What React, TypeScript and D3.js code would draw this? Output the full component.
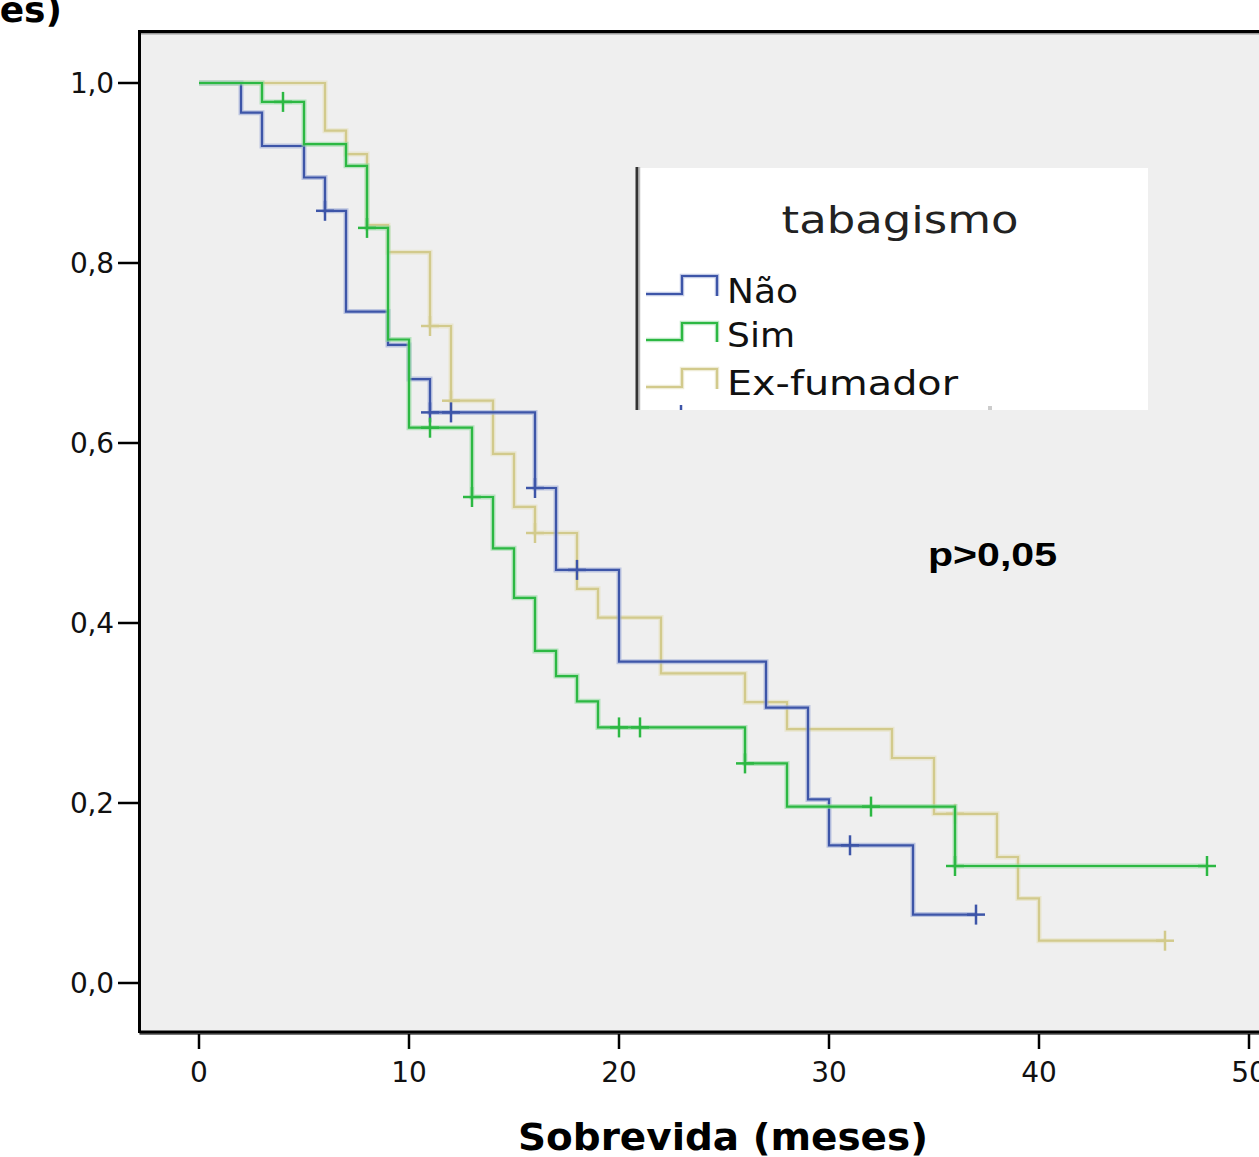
import React from "react";
import * as d3 from "d3";

// Kaplan-Meier steps (months, cumulative survival)
const naoTimes = [0, 2, 3, 5, 6, 7, 9, 10, 11, 16, 17, 20, 27, 29, 30, 34];
const naoSurv = [1, 0.967, 0.93, 0.895, 0.858, 0.746, 0.709, 0.671, 0.634, 0.55, 0.459, 0.357, 0.306, 0.204, 0.153, 0.076];
const naoCensored = [6, 11, 12, 16, 18, 31, 37];
const naoEnd = 37;

const simTimes = [0, 3, 5, 7, 8, 9, 10, 13, 14, 15, 16, 17, 18, 19, 26, 28, 36];
const simSurv = [1, 0.979, 0.932, 0.908, 0.839, 0.715, 0.617, 0.54, 0.483, 0.428, 0.369, 0.341, 0.313, 0.284, 0.244, 0.196, 0.13];
const simCensored = [4, 8, 11, 13, 20, 21, 26, 32, 36, 48];
const simEnd = 48;

const exTimes = [0, 6, 7, 8, 9, 11, 12, 14, 15, 16, 18, 19, 22, 26, 28, 33, 35, 38, 39, 40];
const exSurv = [1, 0.947, 0.921, 0.842, 0.812, 0.73, 0.647, 0.588, 0.529, 0.5, 0.438, 0.406, 0.344, 0.312, 0.282, 0.25, 0.188, 0.14, 0.094, 0.047];
const exCensored = [11, 12, 16, 36, 46];
const exEnd = 46;

const groupNames = ["Não", "Sim", "Ex-fumador"];
const xTicks = [0, 10, 20, 30, 40, 50];
const yTicks = [0, 0.2, 0.4, 0.6, 0.8, 1.0];

const W = 1259, H = 1157;
const x = d3.scaleLinear().domain([0, 50]).range([199, 1249]);
const y = d3.scaleLinear().domain([0, 1]).range([983, 83]);

const colors = ["#3d55a8", "#2cb843", "#d2ca8c"];
const halo = ["#9aa8d6", "#8fd89c", "#e4dfbb"];

function stepPts(times: number[], surv: number[], end: number) {
  const pts: [number, number][] = times.map((t, i) => [t, surv[i]]);
  pts.push([end, surv[surv.length - 1]]);
  return pts;
}
function survAt(times: number[], surv: number[], t: number) {
  const i = d3.bisectRight(times, t) - 1;
  return surv[Math.max(0, i)];
}

const series = [
  { times: naoTimes, surv: naoSurv, cens: naoCensored, end: naoEnd },
  { times: simTimes, surv: simSurv, cens: simCensored, end: simEnd },
  { times: exTimes, surv: exSurv, cens: exCensored, end: exEnd },
];

const line = d3.line<[number, number]>()
  .x(d => x(d[0]))
  .y(d => y(d[1]))
  .curve(d3.curveStepAfter);

const fmt = (v: number) => d3.format(".1f")(v).replace(".", ",");

export default function App() {
  const drawOrder = [2, 0, 1];
  return (
    <svg width={W} height={H} style={{ position: "absolute", left: 0, top: 0, background: "#fff" }}
      fontFamily="DejaVu Sans">
      {/* cut-off title */}
      <text x={62} y={22} textAnchor="end" fontSize={36} fontWeight="bold">(meses)</text>

      {/* plot area */}
      <rect x={140} y={32} width={1140} height={1000} fill="#efefef" />
      <line x1={139.5} x2={1259} y1={33.5} y2={33.5} stroke="#999" strokeWidth={2} />
      <line x1={139.5} x2={1259} y1={31.5} y2={31.5} stroke="#000" strokeWidth={3} />
      <line x1={139.5} x2={1259} y1={1034} y2={1034} stroke="#777" strokeWidth={2} />
      <line x1={139.5} x2={1259} y1={1032} y2={1032} stroke="#000" strokeWidth={3} />
      <line x1={139.5} x2={139.5} y1={30} y2={1033} stroke="#000" strokeWidth={3} />

      {/* y axis */}
      {yTicks.map(v => (
        <g key={v}>
          <line x1={118} x2={139} y1={y(v)} y2={y(v)} stroke="#000" strokeWidth={2.5} />
          <text x={114} y={y(v) + 10} textAnchor="end" fontSize={28} textLength={44} fill="#111">{fmt(v)}</text>
        </g>
      ))}

      {/* x axis */}
      {xTicks.map(v => (
        <g key={v}>
          <line x1={x(v)} x2={x(v)} y1={1034} y2={1049} stroke="#000" strokeWidth={2.5} />
          <text x={x(v)} y={1082} textAnchor="middle" fontSize={28} fill="#111">{v}</text>
        </g>
      ))}
      <text x={518} y={1150} fontSize={38} fontWeight="bold" textLength={410} lengthAdjust="spacingAndGlyphs">Sobrevida (meses)</text>

      {/* survival curves */}
      {drawOrder.map(i => {
        const s = series[i];
        const d = line(stepPts(s.times, s.surv, s.end)) || "";
        return (
          <g key={i}>
            <path d={d} fill="none" stroke={halo[i]} strokeWidth={5} opacity={0.6} />
            <path d={d} fill="none" stroke={colors[i]} strokeWidth={2.2} />
            {s.cens.map((t, k) => {
              const cx = x(t), cy = y(survAt(s.times, s.surv, t));
              return (
                <g key={k} stroke={colors[i]} strokeWidth={2.5}>
                  <line x1={cx - 9} x2={cx + 9} y1={cy} y2={cy} />
                  <line x1={cx} x2={cx} y1={cy - 10} y2={cy + 10} />
                </g>
              );
            })}
          </g>
        );
      })}

      {/* legend */}
      <defs>
        <clipPath id="legclip"><rect x={630} y={166} width={530} height={244} /></clipPath>
      </defs>
      <g clipPath="url(#legclip)">
        <rect x={638} y={168} width={510} height={242} fill="#fff" />
        <line x1={637} x2={637} y1={167} y2={410} stroke="#333" strokeWidth={3} />
        <line x1={639.5} x2={639.5} y1={167} y2={410} stroke="#bbb" strokeWidth={1.5} />
        <text x={900} y={233} textAnchor="middle" fontSize={38} textLength={237} lengthAdjust="spacingAndGlyphs" fill="#222">tabagismo</text>
        {groupNames.map((n, i) => {
          const base = [294, 340, 387][i];
          const top = [276, 323, 369][i];
          const tx = [303, 347, 395][i];
          const tl = [71, 68, 231][i];
          return (
            <g key={n}>
              <path d={`M646,${base}H682V${top}H717V${base + 2}`} fill="none" stroke={halo[i]} strokeWidth={4.5} opacity={0.6} />
              <path d={`M646,${base}H682V${top}H717V${base + 2}`} fill="none" stroke={colors[i]} strokeWidth={2.2} />
              <text x={727} y={tx} fontSize={34} textLength={tl} lengthAdjust="spacingAndGlyphs" fill="#111">{n}</text>
            </g>
          );
        })}
        <line x1={681} x2={681} y1={405} y2={420} stroke={colors[0]} strokeWidth={2.5} />
        <rect x={988} y={406} width={4} height={6} fill="#ccc" />
      </g>

      <text x={928} y={566} fontFamily="Liberation Sans" fontWeight="bold" fontSize={34} textLength={129} lengthAdjust="spacingAndGlyphs" fill="#000">p&gt;0,05</text>
    </svg>
  );
}
